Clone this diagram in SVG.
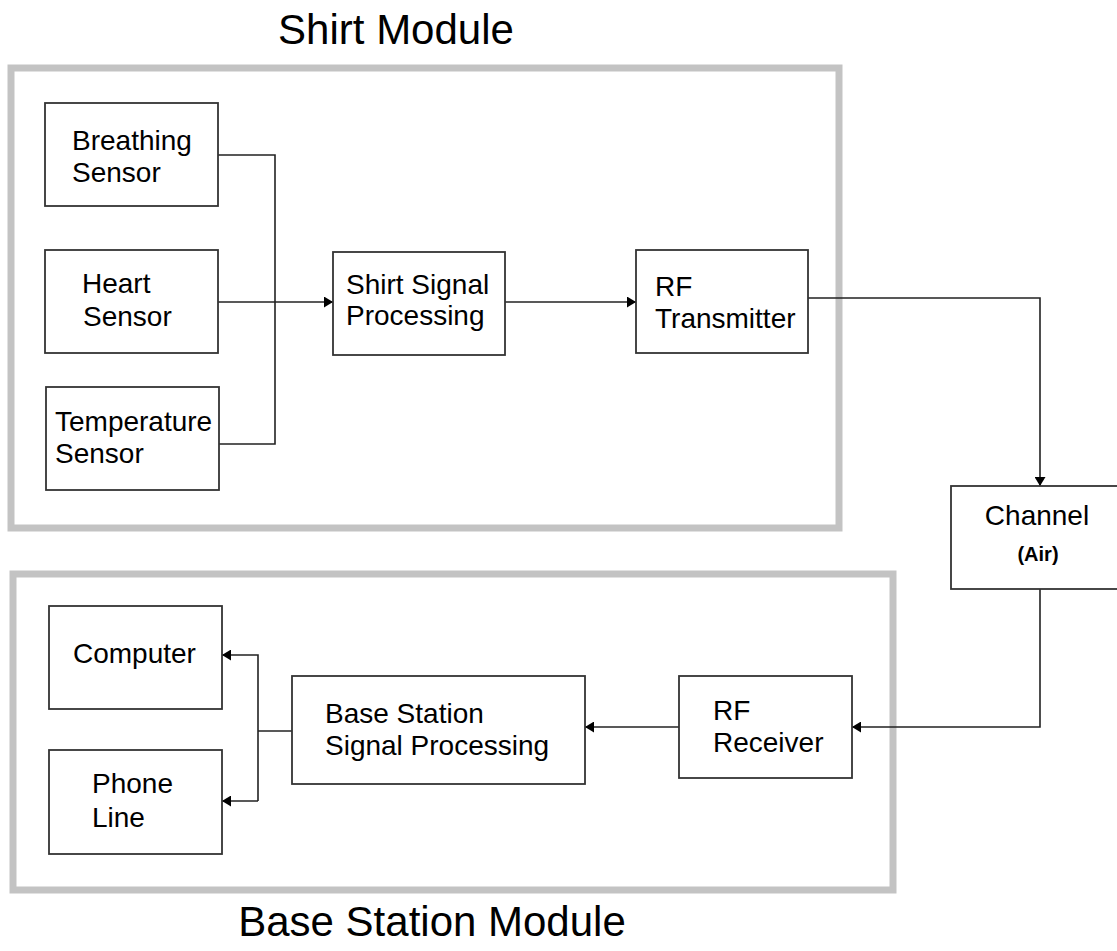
<svg xmlns="http://www.w3.org/2000/svg" width="1117" height="951" viewBox="0 0 1117 951">
<style>
.bg{fill:#fff}
.mod{fill:none;stroke:#c3c3c3;stroke-width:7}
.box{fill:#fff;stroke:#333;stroke-width:1.8}
.t{font-family:"Liberation Sans",Arial,sans-serif;font-size:28px;fill:#000}
.title{font-family:"Liberation Sans",Arial,sans-serif;font-size:42px;fill:#000;text-anchor:middle}
.c{fill:none;stroke:#222;stroke-width:1.6}
</style>
<defs>
<marker id="ah" markerUnits="userSpaceOnUse" markerWidth="9" markerHeight="11" refX="9" refY="5.5" orient="auto">
<path d="M0,0 L9,5.5 L0,11 z" fill="#000"/>
</marker>
</defs>
<rect class="bg" x="0" y="0" width="1117" height="951"/>
<g id="shirt-module">
<rect class="mod" x="11" y="68" width="828" height="460"/>
<text class="title" x="396" y="44" font-size="43">Shirt Module</text>
</g>
<g id="base-module">
<rect class="mod" x="13" y="574" width="880" height="316"/>
<text class="title" x="432" y="936">Base Station Module</text>
</g>
<g id="connectors">
<path class="c" d="M218,155 H275 V444 H219"/>
<path class="c" d="M218,302 H333" marker-end="url(#ah)"/>
<path class="c" d="M505,302 H636" marker-end="url(#ah)"/>
<path class="c" d="M808,298 H1040 V486" marker-end="url(#ah)"/>
<path class="c" d="M1040,589 V727 H852" marker-end="url(#ah)"/>
<path class="c" d="M679,727 H585" marker-end="url(#ah)"/>
<path class="c" d="M292,731 H258"/>
<path class="c" d="M258,801 V655 H222" marker-end="url(#ah)"/>
<path class="c" d="M258,801 H222" marker-end="url(#ah)"/>
</g>
<g id="breathing">
<rect class="box" x="45" y="103" width="173" height="103"/>
<text class="t" x="72" y="150">Breathing</text>
<text class="t" x="72" y="182">Sensor</text>
</g>
<g id="heart">
<rect class="box" x="45" y="250" width="173" height="103"/>
<text class="t" x="82" y="293">Heart</text>
<text class="t" x="83" y="326">Sensor</text>
</g>
<g id="temperature">
<rect class="box" x="46" y="387" width="173" height="103"/>
<text class="t" x="55" y="431">Temperature</text>
<text class="t" x="55" y="463">Sensor</text>
</g>
<g id="shirt-sp">
<rect class="box" x="333" y="252" width="172" height="103"/>
<text class="t" x="346" y="294">Shirt Signal</text>
<text class="t" x="346" y="325">Processing</text>
</g>
<g id="rf-tx">
<rect class="box" x="636" y="250" width="172" height="103"/>
<text class="t" x="655" y="296">RF</text>
<text class="t" x="655" y="328">Transmitter</text>
</g>
<g id="channel">
<rect class="box" x="951" y="486" width="170" height="103"/>
<text class="t" x="1037" y="525" text-anchor="middle" font-size="27">Channel</text>
<text x="1038" y="561" text-anchor="middle" font-family="'Liberation Sans',Arial,sans-serif" font-size="20" font-weight="bold" fill="#000">(Air)</text>
</g>
<g id="computer">
<rect class="box" x="49" y="606" width="173" height="103"/>
<text class="t" x="73" y="663">Computer</text>
</g>
<g id="phone">
<rect class="box" x="49" y="750" width="173" height="104"/>
<text class="t" x="92" y="793">Phone</text>
<text class="t" x="92" y="827">Line</text>
</g>
<g id="base-sp">
<rect class="box" x="292" y="676" width="293" height="108"/>
<text class="t" x="325" y="723">Base Station</text>
<text class="t" x="325" y="755">Signal Processing</text>
</g>
<g id="rf-rx">
<rect class="box" x="679" y="676" width="173" height="102"/>
<text class="t" x="713" y="720">RF</text>
<text class="t" x="713" y="752">Receiver</text>
</g>
</svg>
